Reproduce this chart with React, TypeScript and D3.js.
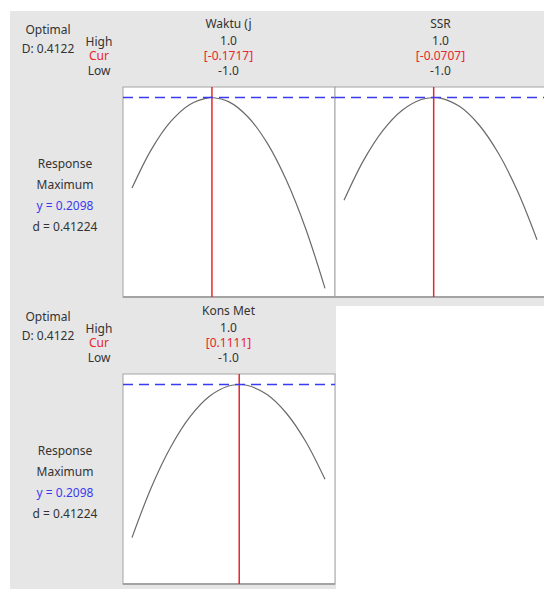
import React from "react";
import * as d3 from "d3";

// ---- data ----
const factors = ["Waktu (j", "SSR", "Kons Met"];
const highLabels = ["1.0", "1.0", "1.0"];
const lowLabels = ["-1.0", "-1.0", "-1.0"];
const curValues = [-0.1717, -0.0707, 0.1111];
const curLabels = ["[-0.1717]", "[-0.0707]", "[0.1111]"];

const optimalD = "D: 0.4122";
const responseGoal = "Maximum";
const responseY = 0.2098;
const responseYLabel = "y = 0.2098";
const responseDLabel = "d = 0.41224";

// curve samples (coded factor level -> predicted response)
const xsWaktu = [-1, -0.8, -0.6, -0.4, -0.2, -0.1717, 0, 0.2, 0.4, 0.6, 0.8, 1];
const ysWaktu = [-0.0167, 0.0795, 0.1493, 0.1925, 0.2096, 0.2098, 0.1995, 0.1618, 0.0963, 0.0028, -0.1182, -0.2672];
const xsSSR = [-1, -0.8, -0.6, -0.4, -0.2, -0.0707, 0, 0.2, 0.4, 0.6, 0.8, 1];
const ysSSR = [-0.0472, 0.0515, 0.1265, 0.1775, 0.2048, 0.2098, 0.2083, 0.1871, 0.1411, 0.0703, -0.0252, -0.1457];
const xsKons = [-1, -0.8, -0.6, -0.4, -0.2, 0, 0.1111, 0.2, 0.4, 0.6, 0.8, 1];
const ysKons = [-0.173, -0.0475, 0.053, 0.1288, 0.1798, 0.206, 0.2098, 0.2074, 0.1848, 0.138, 0.0673, -0.0272];

const curveXs = [xsWaktu, xsSSR, xsKons];
const curveYs = [ysWaktu, ysSSR, ysKons];

const yDomain = [-0.2889, 0.2361];

const FONT = "'Noto Sans', 'DejaVu Sans', sans-serif";
const TXT = "#333333";
const RED = "#e8252c";
const BLUE = "#3a3af0";
const BG = "#e6e6e6";
const BORDER = "#a3a3a3";

type PanelProps = { i: number; bx: number; by: number; dashEnd: number };

function Panel({ i, bx, by, dashEnd }: PanelProps) {
  const W = 212;
  const H = 210;
  const x = d3.scaleLinear().domain([-1, 1]).range([bx + 9, bx + 202]);
  const y = d3.scaleLinear().domain(yDomain).range([by + H, by]);
  const pts = curveXs[i].map((v, k) => [v, curveYs[i][k]] as [number, number]);
  const line = d3
    .line<[number, number]>()
    .x((d) => x(d[0]))
    .y((d) => y(d[1]))
    .curve(d3.curveCatmullRom.alpha(0.5));
  const cx = x(0);
  const cur = x(curValues[i]);
  return (
    <g>
      <rect x={bx} y={by} width={W} height={H} fill="#fff" stroke={BORDER} strokeWidth={1} />
      <line x1={bx} x2={bx + W} y1={by + H} y2={by + H} stroke={BORDER} strokeWidth={2} />
      <path d={line(pts) || ""} fill="none" stroke="#6a6a6a" strokeWidth={1.2} />
      <line x1={cur} x2={cur} y1={by} y2={by + H} stroke={RED} strokeWidth={1.5} />
      <line
        x1={bx}
        x2={dashEnd}
        y1={y(responseY)}
        y2={y(responseY)}
        stroke={BLUE}
        strokeWidth={1.5}
        strokeDasharray="10,6"
      />
      <g fontFamily={FONT} fontSize={12} textAnchor="middle">
        <text x={cx} y={by - 59} fill={TXT}>{factors[i]}</text>
        <text x={cx} y={by - 42} fill={TXT}>{highLabels[i]}</text>
        <text x={cx} y={by - 27} fill={RED}>{curLabels[i]}</text>
        <text x={cx} y={by - 12} fill={TXT}>{lowLabels[i]}</text>
      </g>
    </g>
  );
}

function SideLabels({ by }: { by: number }) {
  return (
    <g fontFamily={FONT} fontSize={12} textAnchor="middle">
      <text x={48} y={by - 53} fill={TXT}>Optimal</text>
      <text x={48} y={by - 34} fill={TXT}>{optimalD}</text>
      <text x={99} y={by - 41} fill={TXT}>High</text>
      <text x={99} y={by - 27} fill={RED}>Cur</text>
      <text x={99} y={by - 12} fill={TXT}>Low</text>
      <text x={65} y={by + 81} fill={TXT}>Response</text>
      <text x={65} y={by + 102} fill={TXT}>{responseGoal}</text>
      <text x={65} y={by + 123} fill={BLUE}>{responseYLabel}</text>
      <text x={65} y={by + 144} fill={TXT}>{responseDLabel}</text>
    </g>
  );
}

export default function App() {
  const top1 = 87;
  const top2 = 374;
  return (
    <svg
      width={544}
      height={589}
      style={{ position: "absolute", left: 0, top: 0, display: "block" }}
    >
      <rect x={0} y={0} width={544} height={589} fill="#fff" />
      <rect x={10} y={11} width={534} height={295} fill={BG} />
      <rect x={10} y={297} width={326} height={292} fill={BG} />
      <Panel i={0} bx={123} by={top1} dashEnd={335} />
      <Panel i={1} bx={335} by={top1} dashEnd={544} />
      <SideLabels by={top1} />
      <Panel i={2} bx={123} by={top2} dashEnd={335} />
      <SideLabels by={top2} />
    </svg>
  );
}
